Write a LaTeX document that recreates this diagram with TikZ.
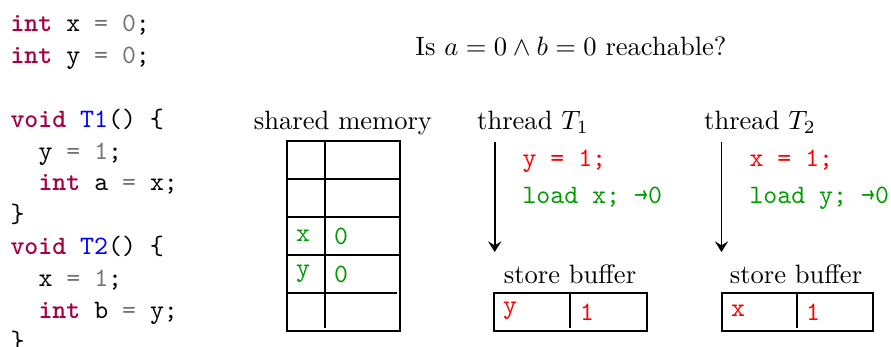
\documentclass[tikz,border=0pt]{standalone}
\usepackage{fontspec}
\usetikzlibrary{arrows.meta}
\definecolor{kwc}{RGB}{165,0,70}
\definecolor{fnc}{RGB}{0,0,255}
\definecolor{litc}{RGB}{115,115,115}
\definecolor{grnc}{RGB}{0,155,0}
\definecolor{rdc}{RGB}{255,0,0}
\newcommand{\mykw}[1]{\textcolor{kwc}{\textbf{#1}}}
\newcommand{\mylit}[1]{\textcolor{litc}{#1}}
\begin{document}
\begin{tikzpicture}[x=0.3766pt,y=-0.3766pt,
  code/.style={anchor=base west,inner sep=0pt,font=\ttfamily},
  lbl/.style={anchor=base,inner sep=0pt},
  cell/.style={inner sep=0pt,font=\ttfamily},
  tbl/.style={semithick},
  flow/.style={semithick,-{Stealth[length=4pt,width=5pt,inset=1.5pt]}}]
\useasboundingbox (0,0) rectangle (891,347);
% code listing
\node[code] (c1) at (10,32) {\mykw{int} x \mylit{=} \mylit{0};};
\node[code] (c2) at (10,63.8) {\mykw{int} y \mylit{=} \mylit{0};};
\node[code] (c3) at (10,127.4) {\mykw{void} \textcolor{fnc}{T1}() \{};
\node[code] (c4) at (38,159.2) {y \mylit{=} \mylit{1};};
\node[code] (c5) at (38,191) {\mykw{int} a \mylit{=} x;};
\node[code] (c6) at (10,222.8) {\}};
\node[code] (c7) at (10,254.6) {\mykw{void} \textcolor{fnc}{T2}() \{};
\node[code] (c8) at (38,286.4) {x \mylit{=} \mylit{1};};
\node[code] (c9) at (38,318.2) {\mykw{int} b \mylit{=} y;};
\node[code] (c10) at (10,350) {\}};
% question
\node[lbl] (q) at (571,56) {Is $a=0\wedge b=0$ reachable?};
% shared memory
\node[lbl] (sm) at (343,130) {shared memory};
\draw[tbl] (287,141) rectangle (400,331);
\draw[tbl] (287,179) -- (400,179);
\draw[tbl] (287,217) -- (400,217);
\draw[tbl] (287,255) -- (400,255);
\draw[tbl] (287,293) -- (397,293);
\draw[tbl] (325,141) -- (325,328);
\node[cell,text=grnc] (mx) at (303,236) {x};
\node[cell,text=grnc] (mx0) at (341,236) {0};
\node[cell,text=grnc] (my) at (303,274) {y};
\node[cell,text=grnc] (my0) at (341,274.5) {0};
% thread T1
\node[lbl] (t1) at (533,130) {thread $T_1$};
\coordinate (a1s) at (494.7,142);
\coordinate (a1e) at (494.7,252);
\draw[flow] (a1s) -- (a1e);
\node[code,text=rdc] (o11) at (522,167) {y = 1;};
\node[code,text=grnc] (o12) at (522,204) {load x; →0};
\node[lbl] (sb1) at (570,284) {store buffer};
\draw[tbl] (494,293) rectangle (647,331);
\draw[tbl] (570,293) -- (570,328);
\node[cell,text=rdc] (b1v) at (510,311) {y};
\node[cell,text=rdc] (b1n) at (587,312) {1};
% thread T2
\node[lbl] (t2) at (760,130) {thread $T_2$};
\coordinate (a2s) at (721.5,142);
\coordinate (a2e) at (721.5,252);
\draw[flow] (a2s) -- (a2e);
\node[code,text=rdc] (o21) at (749,167) {x = 1;};
\node[code,text=grnc] (o22) at (749,204) {load y; →0};
\node[lbl] (sb2) at (796,284) {store buffer};
\draw[tbl] (722,293) rectangle (873,331);
\draw[tbl] (797,293) -- (797,328);
\node[cell,text=rdc] (b2v) at (738,311) {x};
\node[cell,text=rdc] (b2n) at (813,312) {1};
\end{tikzpicture}
\end{document}
